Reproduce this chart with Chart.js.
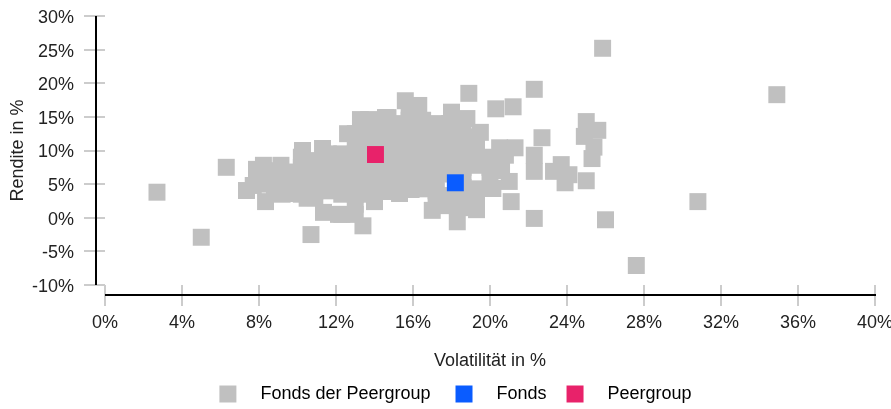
<!DOCTYPE html>
<html lang="de">
<head>
<meta charset="UTF-8">
<title>Rendite / Volatilität</title>
<script src="https://cdn.jsdelivr.net/npm/chart.js"></script>
<style>
  body { margin: 0; background: #fff; }
  #wrap { width: 891px; height: 409px; position: relative; }
</style>
</head>
<body>
<div id="wrap"><canvas id="chart"></canvas></div>
<script>
// [Volatilität %, Rendite %]
const peerFunds = [
  [2.7,3.8],[5.0,-2.9],[6.3,7.5],[10.7,-2.5],[13.4,-1.2],
  [25.85,25.2],[34.9,18.3],[30.8,2.4],[26.0,-0.3],[27.6,-7.1],
  [25.0,14.3],[25.6,13.0],[24.9,12.1],[25.4,10.5],[25.3,8.8],[25.0,5.5],
  [23.7,7.9],[23.9,5.2],[23.3,6.9],[24.1,6.4],
  [22.3,19.1],[22.7,11.9],[22.3,9.3],[22.3,6.9],[22.3,-0.1],
  [21.1,2.4],[18.9,18.5],[20.3,16.2],[21.2,16.5],
  [20.5,10.4],[21.3,10.4],[20.8,9.3],[21.0,5.4],
  [18.3,-0.6],[19.3,1.2],[17.0,1.1],
  [15.6,17.4],[16.3,16.7],[18.0,15.7],[19.5,12.7],
  [7.35,4.05],[7.7,4.8],[7.87,7.2],[8.23,7.8],[8.34,2.4],[9.14,7.8],[9.2,3.5],
  [10.26,10.0],[9.8,3.6],[10.5,2.9],[11.3,10.3],[11.35,0.8],[12.13,0.5],
  [12.6,12.5],[13.0,0.5],[13.27,14.6],[13.7,14.6],[14.0,2.4],[14.57,14.9],
  [14.7,14.9],[14.86,3.9],[15.3,3.6],[15.9,4.2],[17.2,14.0],[17.8,1.8],
  [18.8,14.75],[20.15,4.35],
  [8.0,5.0],[8.0,6.5],
  [8.8,4.0],[8.8,5.5],[8.8,7.0],
  [9.5,3.8],[9.5,5.3],[9.5,6.8],
  [10.2,3.5],[10.2,4.5],[10.2,6.0],[10.2,7.5],[10.2,9.0],
  [10.9,3.0],[10.9,4.0],[10.9,5.5],[10.9,7.0],[10.9,8.5],
  [11.6,4.0],[11.6,5.5],[11.6,7.0],[11.6,8.5],[11.6,9.5],
  [12.3,0.5],[12.3,3.5],[12.3,5.0],[12.3,6.5],[12.3,8.0],[12.3,9.5],
  [13.0,2.0],[13.0,3.5],[13.0,5.0],[13.0,6.5],[13.0,8.0],[13.0,9.5],[13.0,11.0],[13.0,12.5],
  [13.7,3.5],[13.7,5.0],[13.7,6.5],[13.7,8.0],[13.7,9.5],[13.7,11.0],[13.7,12.5],
  [14.4,4.0],[14.4,5.5],[14.4,7.0],[14.4,8.5],[14.4,10.0],[14.4,11.5],[14.4,13.0],
  [15.1,5.0],[15.1,6.5],[15.1,8.0],[15.1,9.5],[15.1,11.0],[15.1,12.5],[15.1,14.0],
  [15.8,5.5],[15.8,7.0],[15.8,8.5],[15.8,10.0],[15.8,11.5],[15.8,13.0],[15.8,14.5],[15.8,16.0],
  [16.5,4.3],[16.5,5.5],[16.5,7.0],[16.5,8.5],[16.5,10.0],[16.5,11.5],[16.5,13.0],[16.5,14.5],
  [17.2,2.5],[17.2,4.0],[17.2,5.5],[17.2,7.0],[17.2,8.5],[17.2,10.0],[17.2,11.5],[17.2,13.0],
  [17.9,3.3],[17.9,6.5],[17.9,8.0],[17.9,9.5],[17.9,11.0],[17.9,12.5],[17.9,14.0],
  [18.6,1.5],[18.6,3.0],[18.6,4.5],[18.6,6.0],[18.6,7.5],[18.6,9.0],[18.6,10.5],[18.6,12.0],[18.6,13.5],
  [19.3,2.8],[19.3,4.3],[19.3,7.8],[19.3,9.0],[19.3,10.5],[19.3,12.0],
  [20.0,6.0],[20.0,7.5],[20.0,9.0],
  [20.6,7.0]
];
const fonds = [[18.2, 5.2]];
const peergroup = [[14.05, 9.4]];

const seriesNames = ['Fonds der Peergroup', 'Fonds', 'Peergroup'];
const seriesColors = ['#c0c0c0', '#0a5cff', '#e8226a'];
const legendTexts = ['   Fonds der Peergroup   ', '   Fonds  ', '   Peergroup'];
const xTicks = [0, 4, 8, 12, 16, 20, 24, 28, 32, 36, 40];
const yTicks = [-10, -5, 0, 5, 10, 15, 20, 25, 30];

Chart.defaults.font.family = '"Liberation Sans", Arial, sans-serif';
Chart.defaults.font.size = 18;
Chart.defaults.color = '#222';

const toPts = arr => arr.map(p => ({ x: p[0], y: p[1] }));

// black axis lines, set off from the plot area like in the original
const axisLines = {
  id: 'axisLines',
  afterLayout(chart) {
    // legend in the original sits a bit right of centre
    chart.legend.left += 18;
    chart.legend.right += 18;
  },
  afterDraw(chart) {
    const { ctx, chartArea, scales } = chart;
    ctx.save();
    ctx.strokeStyle = '#000';
    ctx.lineWidth = 2;
    ctx.beginPath();
    ctx.moveTo(chartArea.left - 9, scales.y.getPixelForValue(30));
    ctx.lineTo(chartArea.left - 9, scales.y.getPixelForValue(-10));
    ctx.moveTo(scales.x.getPixelForValue(0), chartArea.bottom + 10);
    ctx.lineTo(scales.x.getPixelForValue(40) + 1, chartArea.bottom + 10);
    ctx.stroke();
    ctx.restore();
  }
};

const pointOpts = { pointStyle: 'rect', pointRadius: 12, pointHoverRadius: 12, borderWidth: 0, pointBorderWidth: 0 };

new Chart(document.getElementById('chart'), {
  type: 'scatter',
  data: {
    datasets: [
      { label: seriesNames[0], data: toPts(peerFunds), backgroundColor: seriesColors[0], order: 3, ...pointOpts },
      { label: seriesNames[1], data: toPts(fonds), backgroundColor: seriesColors[1], order: 1, ...pointOpts },
      { label: seriesNames[2], data: toPts(peergroup), backgroundColor: seriesColors[2], order: 2, ...pointOpts }
    ]
  },
  options: {
    responsive: true,
    maintainAspectRatio: false,
    animation: false,
    layout: { padding: { top: 16, right: 16, bottom: 4, left: 0 } },
    plugins: {
      tooltip: { enabled: false },
      legend: {
        position: 'bottom',
        maxHeight: 30,
        labels: {
          boxWidth: 17,
          boxHeight: 17,
          padding: 10,
          color: '#222',
          generateLabels(chart) {
            return chart.data.datasets.map((ds, i) => ({
              text: legendTexts[i],
              fillStyle: seriesColors[i],
              strokeStyle: seriesColors[i],
              lineWidth: 0,
              hidden: false,
              datasetIndex: i
            }));
          }
        }
      }
    },
    scales: {
      x: {
        type: 'linear',
        min: 0, max: 40,
        afterBuildTicks(s) { s.ticks = xTicks.map(v => ({ value: v })); },
        afterFit(s) { s.height = 90; s.paddingLeft = 0; s.paddingRight = 0; },
        ticks: { padding: 6, color: '#222', callback: v => v + '%' },
        grid: { drawOnChartArea: false, drawTicks: true, tickLength: 21, color: '#cccccc', lineWidth: 2 },
        border: { display: false },
        title: { display: true, text: 'Volatilität in %', color: '#222', padding: { top: 0, bottom: 3 } }
      },
      y: {
        type: 'linear',
        min: -10, max: 30,
        afterBuildTicks(s) { s.ticks = yTicks.map(v => ({ value: v })); },
        afterFit(s) { s.width = 105; s.paddingTop = 0; s.paddingBottom = 0; },
        ticks: { padding: 10, labelOffset: 2, color: '#222', callback: v => v + '%' },
        grid: { drawOnChartArea: false, drawTicks: true, tickLength: 21, color: '#cccccc', lineWidth: 2 },
        border: { display: false },
        title: { display: true, text: 'Rendite in %', color: '#222', padding: { top: 7, bottom: 0 } }
      }
    }
  },
  plugins: [axisLines]
});
</script>
</body>
</html>
